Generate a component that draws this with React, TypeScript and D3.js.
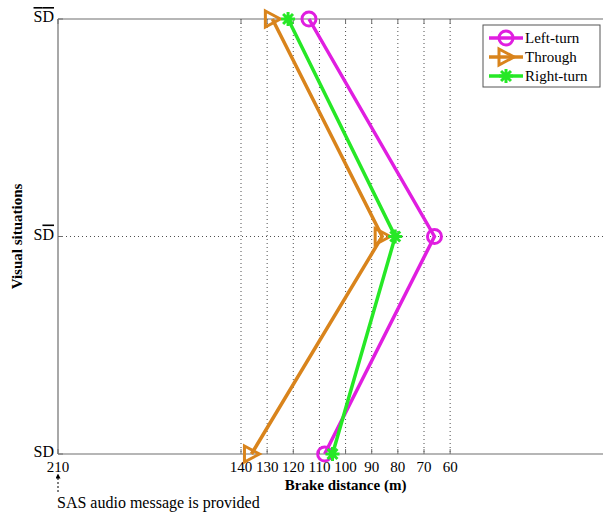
import * as d3 from "d3";
import React, { useRef, useEffect } from "react";

const categories = ["SD", "SDbar", "SbarDbar"];
const leftTurn = [108, 66, 114];
const through = [136, 86, 128];
const rightTurn = [105, 81, 122];
const xTicks = [210, 140, 130, 120, 110, 100, 90, 80, 70, 60];
const seriesNames = ["Left-turn", "Through", "Right-turn"];

const width = 603;
const height = 523;
const margin = { top: 19, bottom: 69, left: 58, right: -4 };
const font = "'Liberation Serif', 'DejaVu Serif', Tinos, 'Times New Roman', serif";

function App() {
  const ref = useRef<SVGSVGElement>(null);

  useEffect(() => {
    const svg = d3.select(ref.current);
    svg.selectAll("*").remove();
    const innerWidth = width - margin.left - margin.right;
    const innerHeight = height - margin.top - margin.bottom;

    const x = d3.scaleLinear().domain([210, 0]).range([0, innerWidth]);
    const y = d3.scalePoint().domain(categories).range([innerHeight, 0]);

    const g = svg.append("g").attr("transform", `translate(${margin.left},${margin.top})`);

    // grid
    g.selectAll(".vgrid")
      .data(xTicks.filter((t) => t !== 210))
      .join("line")
      .attr("x1", (d) => x(d))
      .attr("x2", (d) => x(d))
      .attr("y1", 0)
      .attr("y2", innerHeight)
      .attr("stroke", "#222")
      .attr("stroke-width", 0.8)
      .attr("stroke-dasharray", "1,3");
    g.append("line")
      .attr("x1", 0)
      .attr("x2", innerWidth)
      .attr("y1", y("SDbar"))
      .attr("y2", y("SDbar"))
      .attr("stroke", "#222")
      .attr("stroke-width", 0.8)
      .attr("stroke-dasharray", "1,3");

    // frame
    const frameColor = "#6e6e6e";
    g.append("line").attr("x1", 0).attr("x2", innerWidth).attr("y1", 0).attr("y2", 0)
      .attr("stroke", frameColor).attr("stroke-width", 1.2);
    g.append("line").attr("x1", 0).attr("x2", innerWidth).attr("y1", innerHeight).attr("y2", innerHeight)
      .attr("stroke", frameColor).attr("stroke-width", 1.2);
    g.append("line").attr("x1", 0).attr("x2", 0).attr("y1", 0).attr("y2", innerHeight)
      .attr("stroke", frameColor).attr("stroke-width", 1.2);

    // tick marks
    g.selectAll(".xtb")
      .data(xTicks)
      .join("line")
      .attr("x1", (d) => x(d)).attr("x2", (d) => x(d))
      .attr("y1", innerHeight).attr("y2", innerHeight - 5)
      .attr("stroke", frameColor);
    g.selectAll(".xtt")
      .data(xTicks)
      .join("line")
      .attr("x1", (d) => x(d)).attr("x2", (d) => x(d))
      .attr("y1", 0).attr("y2", 5)
      .attr("stroke", frameColor);
    g.selectAll(".ytk")
      .data(categories)
      .join("line")
      .attr("x1", 0).attr("x2", 5)
      .attr("y1", (d) => y(d)!).attr("y2", (d) => y(d)!)
      .attr("stroke", frameColor);

    // x tick labels
    g.selectAll(".xlab")
      .data(xTicks)
      .join("text")
      .attr("x", (d) => x(d))
      .attr("y", innerHeight + 18)
      .attr("text-anchor", "middle")
      .style("font-family", font)
      .attr("font-size", 15)
      .attr("fill", "#000")
      .text((d) => d);

    // y tick labels
    const ylab = g.selectAll(".ylab")
      .data(categories)
      .join("text")
      .attr("x", -4)
      .attr("y", (d) => y(d)! + 3)
      .attr("text-anchor", "end")
      .style("font-family", font)
      .attr("font-size", 16)
      .attr("fill", "#000");
    ylab.append("tspan")
      .style("text-decoration", (d) => (d === "SbarDbar" ? "overline" : "none"))
      .text("S");
    ylab.append("tspan")
      .style("text-decoration", (d) => (d === "SD" ? "none" : "overline"))
      .text("D");

    // axis titles
    g.append("text")
      .attr("x", x(100))
      .attr("y", innerHeight + 36)
      .attr("text-anchor", "middle")
      .style("font-family", font)
      .attr("font-size", 15)
      .attr("font-weight", "bold")
      .text("Brake distance (m)");
    svg.append("text")
      .attr("transform", `translate(22, ${margin.top + innerHeight / 2}) rotate(-90)`)
      .attr("text-anchor", "middle")
      .style("font-family", font)
      .attr("font-size", 15)
      .attr("font-weight", "bold")
      .text("Visual situations");

    // annotation
    svg.append("defs").append("marker")
      .attr("id", "arrowhead")
      .attr("viewBox", "0 0 10 10")
      .attr("refX", 5).attr("refY", 5)
      .attr("markerWidth", 5).attr("markerHeight", 5)
      .attr("orient", "auto")
      .append("path").attr("d", "M0,0 L10,5 L0,10 z").attr("fill", "#000");
    svg.append("line")
      .attr("x1", margin.left + x(210)).attr("x2", margin.left + x(210))
      .attr("y1", 492).attr("y2", 476)
      .attr("stroke", "#000").attr("stroke-dasharray", "2,2")
      .attr("marker-end", "url(#arrowhead)");
    svg.append("text")
      .attr("x", 57).attr("y", 508)
      .style("font-family", font)
      .attr("font-size", 16)
      .text("SAS audio message is provided");

    const colors = ["#e01ee0", "#d9841c", "#26e826"];
    const seriesData = [leftTurn, through, rightTurn];
    const line = d3.line<number>()
      .x((d) => x(d))
      .y((d, i) => y(categories[i])!);

    const drawMarker = (sel: any, kind: number, color: string) => {
      if (kind === 0) {
        sel.append("circle").attr("r", 7).attr("fill", "none").attr("stroke", color).attr("stroke-width", 3);
      } else if (kind === 1) {
        sel.append("path").attr("d", "M-7,-8 L8,0 L-7,8 Z").attr("fill", "none")
          .attr("stroke", color).attr("stroke-width", 3).attr("stroke-linejoin", "miter");
      } else {
        const r = 7;
        const p = d3.range(4).map((k) => {
          const a = (k * Math.PI) / 4;
          return `M${-r * Math.cos(a)},${-r * Math.sin(a)} L${r * Math.cos(a)},${r * Math.sin(a)}`;
        }).join(" ");
        sel.append("path").attr("d", p).attr("stroke", color).attr("stroke-width", 3);
      }
    };

    seriesData.forEach((vals, si) => {
      g.append("path")
        .datum(vals)
        .attr("d", line)
        .attr("fill", "none")
        .attr("stroke", colors[si])
        .attr("stroke-width", 3.5);
      vals.forEach((v, i) => {
        const m = g.append("g").attr("transform", `translate(${x(v)},${y(categories[i])})`);
        drawMarker(m, si, colors[si]);
      });
    });

    // legend
    const lg = svg.append("g").attr("transform", "translate(483,25)");
    lg.append("rect").attr("width", 117).attr("height", 62).attr("fill", "#fff")
      .attr("stroke", "#555").attr("stroke-width", 1);
    seriesNames.forEach((name, i) => {
      const yy = 13 + i * 19;
      lg.append("line").attr("x1", 6).attr("x2", 40).attr("y1", yy).attr("y2", yy)
        .attr("stroke", colors[i]).attr("stroke-width", 3.5);
      const m = lg.append("g").attr("transform", `translate(23,${yy})`);
      drawMarker(m, i, colors[i]);
      lg.append("text").attr("x", 42).attr("y", yy + 5)
        .style("font-family", font).attr("font-size", 15).text(name);
    });
  }, []);

  return (
    <div style={{ position: "absolute", left: 0, top: 0 }}>
      <svg ref={ref} width={width} height={height} style={{ display: "block", background: "#fff" }}></svg>
    </div>
  );
}

export default App;
